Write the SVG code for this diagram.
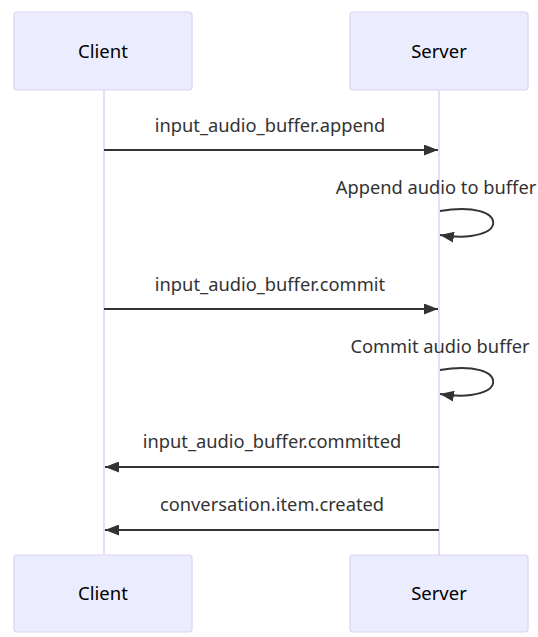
<svg xmlns="http://www.w3.org/2000/svg" width="538" height="637" viewBox="0 0 538 637">
<style>
.actor{fill:#ECECFF;stroke:#DCD3F3;stroke-width:1.2}
.atext{font-family:"Noto Sans","DejaVu Sans",sans-serif;font-size:18.5px;fill:#000;text-anchor:middle;dominant-baseline:central}
.life{stroke:#DCD3F3;stroke-width:1.5}
.msg{stroke:#333;stroke-width:1.8;fill:none}
.mtext{font-family:"Noto Sans","DejaVu Sans",sans-serif;font-size:18.3px;fill:#333;text-anchor:middle;dominant-baseline:central}
</style>
<defs>
<marker id="ah" viewBox="0 0 14 11" refX="14" refY="5.5" markerWidth="14" markerHeight="11" markerUnits="userSpaceOnUse" orient="auto">
<path d="M0,0 L14,5.5 L0,11 z" fill="#333"/>
</marker>
</defs>
<g id="lifelines">
<line class="life" x1="104" y1="90" x2="104" y2="555"/>
<line class="life" x1="439" y1="90" x2="439" y2="555"/>
</g>
<g id="client-top"><rect class="actor" x="14" y="12" width="178" height="78" rx="3"/><text class="atext" x="103" y="50">Client</text></g>
<g id="server-top"><rect class="actor" x="350" y="12" width="178" height="78" rx="3"/><text class="atext" x="439" y="50">Server</text></g>
<g id="client-bottom"><rect class="actor" x="14" y="555" width="178" height="77" rx="3"/><text class="atext" x="103" y="592">Client</text></g>
<g id="server-bottom"><rect class="actor" x="350" y="555" width="178" height="77" rx="3"/><text class="atext" x="439" y="592">Server</text></g>
<g id="connectors">
<line class="msg" x1="104" y1="150" x2="438" y2="150" marker-end="url(#ah)"/>
<path class="msg" d="M440,211 C511,199 511,246 440,235" marker-end="url(#ah)"/>
<line class="msg" x1="104" y1="309" x2="438" y2="309" marker-end="url(#ah)"/>
<path class="msg" d="M440,370 C511,358 511,405 440,394" marker-end="url(#ah)"/>
<line class="msg" x1="439" y1="467" x2="105" y2="467" marker-end="url(#ah)"/>
<line class="msg" x1="439" y1="530" x2="105" y2="530" marker-end="url(#ah)"/>
</g>
<g id="labels">
<text class="mtext" x="270" y="124">input_audio_buffer.append</text>
<text class="mtext" x="436" y="186">Append audio to buffer</text>
<text class="mtext" x="270" y="283">input_audio_buffer.commit</text>
<text class="mtext" x="440" y="345">Commit audio buffer</text>
<text class="mtext" x="272" y="440">input_audio_buffer.committed</text>
<text class="mtext" x="272" y="503">conversation.item.created</text>
</g>
</svg>
